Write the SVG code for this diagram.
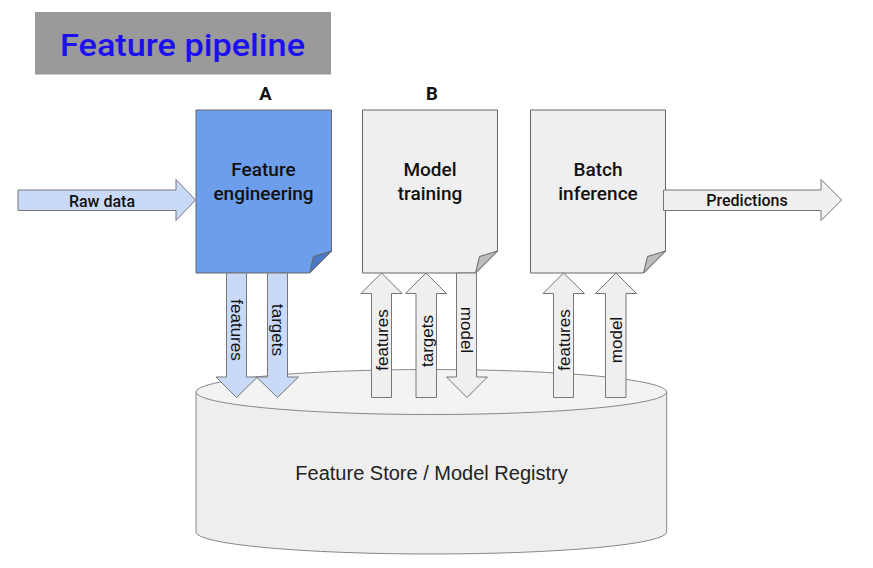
<svg xmlns="http://www.w3.org/2000/svg" width="873" height="568" viewBox="0 0 873 568">
<style>
.doc{stroke:#666;stroke-width:1}
.fold{stroke:#666;stroke-width:1;stroke-linejoin:round}
.arw{stroke:#777;stroke-width:1}
.blue{fill:#c9daf8}
.gray{fill:#efefef}
.lbl{font-family:Roboto,"Liberation Sans",sans-serif;font-weight:500;fill:#111;text-anchor:middle}
.vl{font-family:"Liberation Sans",Arial,sans-serif;font-size:17px;fill:#111;text-anchor:middle}
</style>
<rect width="873" height="568" fill="#fff"/>
<g id="title">
<rect x="35" y="12" width="296" height="62.5" fill="#9a9a9a"/>
<text x="60" y="55.5" font-family="Roboto,'Liberation Sans',sans-serif" font-weight="500" font-size="31" fill="#1d10f0" textLength="245" lengthAdjust="spacingAndGlyphs">Feature pipeline</text>
</g>
<g id="labels">
<text x="265.5" y="99.5" font-family="Roboto,'Liberation Sans',sans-serif" font-weight="700" font-size="18.5" fill="#111" text-anchor="middle">A</text>
<text x="432" y="99.5" font-family="Roboto,'Liberation Sans',sans-serif" font-weight="700" font-size="18.5" fill="#111" text-anchor="middle">B</text>
</g>
<g id="store">
<path d="M196,392 V532 A235.3,22 0 0 0 666.7,532 V392 Z" fill="#eeeeee" stroke="#888" stroke-width="1"/>
<ellipse cx="431.3" cy="392" rx="235.3" ry="22.5" fill="#f3f3f3" stroke="#888" stroke-width="1"/>
<text x="431.5" y="480" font-family="'Liberation Sans',Arial,sans-serif" font-size="20" fill="#222" text-anchor="middle">Feature Store / Model Registry</text>
</g>
<g id="feature-engineering">
<path class="doc" d="M196,110 H331.5 V251 L309.5,273 H196 Z" fill="#6d9eeb"/>
<path class="fold" d="M331.5,251 L309.5,273 L313.5,256.5 Z" fill="#4a78c4"/>
<text class="lbl" x="263.5" y="176" font-size="19">Feature</text>
<text class="lbl" x="263.5" y="200" font-size="19">engineering</text>
</g>
<g id="model-training">
<path class="doc" d="M362.5,110 H497.5 V251 L475.5,273 H362.5 Z" fill="#efefef"/>
<path class="fold" d="M497.5,251 L475.5,273 L479.5,256.5 Z" fill="#bdbdbd"/>
<text class="lbl" x="430" y="176" font-size="19">Model</text>
<text class="lbl" x="430" y="200" font-size="19">training</text>
</g>
<g id="batch-inference">
<path class="doc" d="M530.5,110 H665.5 V251 L643.5,273 H530.5 Z" fill="#efefef"/>
<path class="fold" d="M665.5,251 L643.5,273 L647.5,256.5 Z" fill="#bdbdbd"/>
<text class="lbl" x="598" y="176" font-size="19">Batch</text>
<text class="lbl" x="598" y="200" font-size="19">inference</text>
</g>
<g id="connectors">
<polygon class="arw blue" points="18,190 176,190 176,179.5 195.5,200 176,220.5 176,210.5 18,210.5"/>
<text class="lbl" x="102" y="206.5" font-size="16">Raw data</text>
<polygon class="arw gray" points="663.5,190 821,190 821,179.5 841.5,200 821,220.5 821,210.5 663.5,210.5"/>
<text class="lbl" x="747" y="206" font-size="16">Predictions</text>
<polygon class="arw blue" points="226.5,273 246.5,273 246.5,377 257.5,377 236.5,397.5 216,377 226.5,377"/>
<text class="vl" transform="translate(236.5,330) rotate(90)" y="6">features</text>
<polygon class="arw blue" points="267.5,273 287.5,273 287.5,377 298.5,377 277.5,397.5 256.5,377 267.5,377"/>
<text class="vl" transform="translate(277.5,330) rotate(90)" y="6">targets</text>
<polygon class="arw gray" points="381.5,273 402,293.5 391.5,293.5 391.5,397.5 371.5,397.5 371.5,293.5 361,293.5"/>
<text class="vl" transform="translate(381.5,340) rotate(-90)" y="6">features</text>
<polygon class="arw gray" points="426,273 446.5,293.5 436.5,293.5 436.5,397.5 416,397.5 416,293.5 405.5,293.5"/>
<text class="vl" transform="translate(426.5,341) rotate(-90)" y="6">targets</text>
<polygon class="arw gray" points="456.5,273 476.5,273 476.5,377 487.5,377 467,397.5 446.5,377 456.5,377"/>
<text class="vl" transform="translate(466.5,330) rotate(90)" y="6">model</text>
<polygon class="arw gray" points="563.5,273 584.5,293.5 573.5,293.5 573.5,397.5 553.5,397.5 553.5,293.5 543,293.5"/>
<text class="vl" transform="translate(563.5,340) rotate(-90)" y="6">features</text>
<polygon class="arw gray" points="616,273 636.5,293.5 626,293.5 626,397.5 605.5,397.5 605.5,293.5 595.5,293.5"/>
<text class="vl" transform="translate(616,340) rotate(-90)" y="6">model</text>
</g>
</svg>
